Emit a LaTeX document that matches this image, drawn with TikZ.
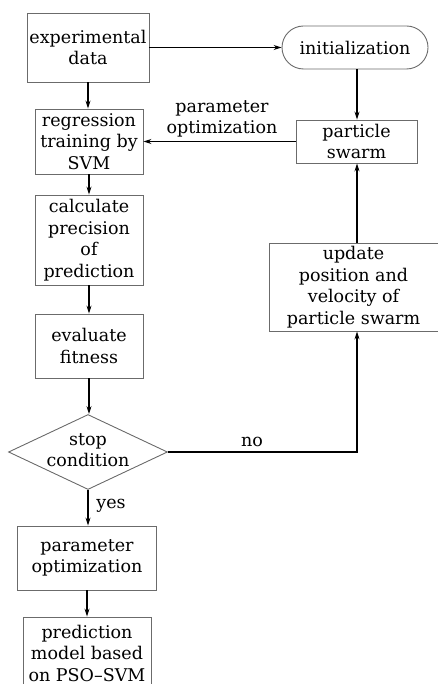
\documentclass[tikz,border=0pt]{standalone}
\usepackage{fontspec}
\setmainfont{DejaVu Serif}
\usetikzlibrary{shapes.geometric,shapes.misc,arrows.meta}
\definecolor{boxline}{gray}{0.42}
\newcommand\flowfont{\fontsize{17.5}{21.5}\selectfont}
\begin{document}
\begin{tikzpicture}[x=1pt,y=-1pt,
  every node/.style={font=\flowfont},
  box/.style={draw=boxline, line width=0.9pt, rectangle, align=center, inner sep=0pt},
  pill/.style={box, rounded rectangle},
  decision/.style={draw=boxline, line width=0.9pt, diamond, inner sep=0pt},
  flow/.style={line width=1.1pt, -{Stealth[length=8pt,width=5pt]}},
  lbl/.style={align=center, inner sep=0pt}]
\useasboundingbox (0,0) rectangle (438,684);

% left column
\node[box, minimum width=122pt, minimum height=69pt] (exp) at (88,47.5) {experimental\\data};
\node[box, minimum width=108pt, minimum height=65pt] (reg) at (89,141.5) {regression\\training by\\SVM};
\node[box, minimum width=108pt, minimum height=90pt] (calc) at (89,240) {calculate\\precision\\of\\prediction};
\node[box, minimum width=108pt, minimum height=64pt] (eval) at (89,346) {evaluate\\fitness};
\node[decision, minimum width=159pt, minimum height=75pt] (stop) at (88,452) {};
\node[lbl] (stoptext) at (88,450) {stop\\condition};
\node[box, minimum width=139pt, minimum height=64pt] (param) at (87,558) {parameter\\optimization};
\node[box, minimum width=128pt, minimum height=72pt] (pred) at (87,653) {prediction\\model based\\on PSO–SVM};

% right column
\node[pill, minimum width=146pt, minimum height=43pt] (init) at (355,47.5) {initialization};
\node[box, minimum width=121pt, minimum height=43pt] (ps) at (356.5,141.5) {particle\\swarm};
\node[box, minimum width=169pt, minimum height=88pt] (update) at (353.5,287) {update\\position and\\velocity of\\particle swarm};

\coordinate (bend) at (357,452);

% connectors
\draw[flow] (exp.east) -- (init.west);
\draw[flow] (exp.south) -- (exp.south |- reg.north);
\draw[flow] (reg.south) -- (reg.south |- calc.north);
\draw[flow] (calc.south) -- (calc.south |- eval.north);
\draw[flow] (eval.south) -- (eval.south |- stop.north);
\draw[flow] (stop.south) -- (stop.south |- param.north);
\draw[flow] (param.south) -- (param.south |- pred.north);
\draw[flow] (init.south -| bend) -- (bend |- ps.north);
\draw[flow] (ps.west) -- (reg.east);
\draw[flow] (stop.east) -- (bend) -- (bend |- update.south);
\draw[flow] (update.north -| bend) -- (bend |- ps.south);

% connector labels
\node[lbl] (optlbl) at (222,119) {parameter\\optimization};
\node[lbl] (nolbl) at (252,442) {no};
\node[lbl] (yeslbl) at (111,506) {yes};
\end{tikzpicture}
\end{document}
